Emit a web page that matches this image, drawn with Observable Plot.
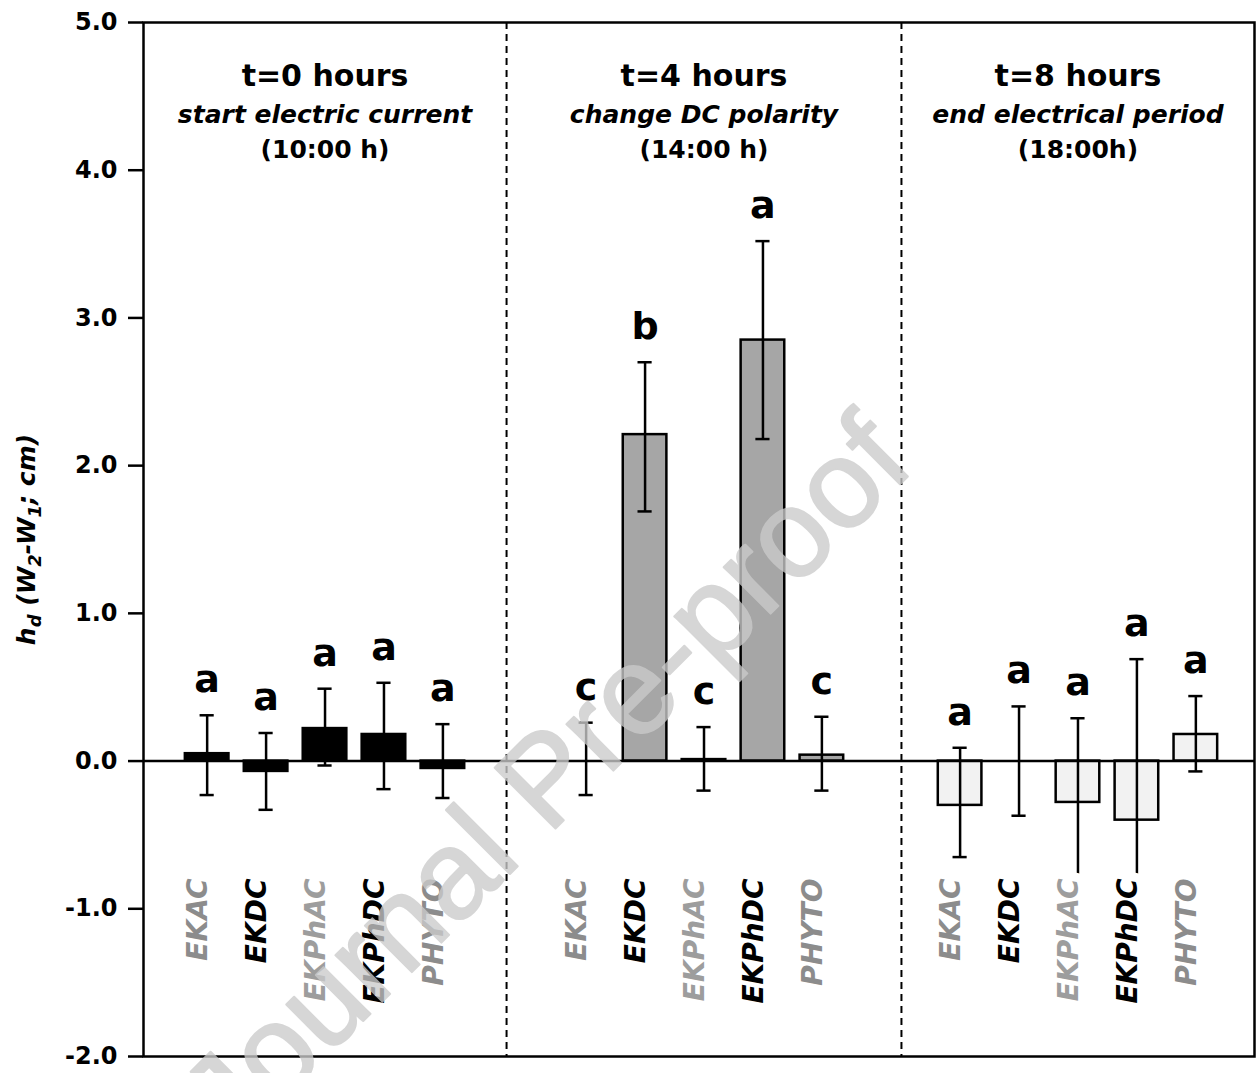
<!DOCTYPE html>
<html><head><meta charset="utf-8">
<script src="https://cdn.jsdelivr.net/npm/d3@7"></script>
<script src="https://cdn.jsdelivr.net/npm/@observablehq/plot@0.6"></script>
<style>html,body{margin:0;padding:0;background:#fff;}</style>
</head><body><div id="chart"></div>
<script>
// ---- data ----
const panelTitles = ["t=0 hours", "t=4 hours", "t=8 hours"];
const panelSubtitles = ["start electric current", "change DC polarity", "end electrical period"];
const panelTimes = ["(10:00 h)", "(14:00 h)", "(18:00h)"];
const treatments = ["EKAC", "EKDC", "EKPhAC", "EKPhDC", "PHYTO"];
const meanT0 = [0.05, -0.07, 0.22, 0.18, -0.05];
const meanT4 = [0.00, 2.21, 0.01, 2.85, 0.04];
const meanT8 = [-0.30, 0.00, -0.28, -0.40, 0.18];
const hiT0 = [0.31, 0.19, 0.49, 0.53, 0.25];
const loT0 = [-0.23, -0.33, -0.03, -0.19, -0.25];
const hiT4 = [0.26, 2.70, 0.23, 3.52, 0.30];
const loT4 = [-0.23, 1.69, -0.20, 2.18, -0.20];
const hiT8 = [0.09, 0.37, 0.29, 0.69, 0.44];
const loT8 = [-0.65, -0.37, -0.90, -0.90, -0.07];
const lettersT0 = ["a", "a", "a", "a", "a"];
const lettersT4 = ["c", "b", "c", "a", "c"];
const lettersT8 = ["a", "a", "a", "a", "a"];
const yTicks = [-2, -1, 0, 1, 2, 3, 4, 5];
const yLabel = "hd (W2-W1; cm)";
const watermark = "Journal Pre-proof";

// ---- styles / layout ----
const panelFill = ["#000000", "#a6a6a6", "#f2f2f2"];
const labelColor = {EKAC: "#8c8c8c", EKDC: "#000000", EKPhAC: "#9d9d9d", EKPhDC: "#000000", PHYTO: "#8c8c8c"};
const panelEdges = [-1.05, 5.11, 11.81, 17.80]; // x-scale units, one unit = one bar slot
const panelCenter = g => (panelEdges[g] + panelEdges[g + 1]) / 2;
const halfBar = 0.37, halfCap = 0.12;
const FONT = "DejaVu Sans";

const means = [meanT0, meanT4, meanT8];
const highs = [hiT0, hiT4, hiT8];
const lows = [loT0, loT4, loT8];
const letters = [lettersT0, lettersT4, lettersT8];

const rows = [];
panelTitles.forEach((_, g) => treatments.forEach((t, i) => rows.push({
  g, t, mean: means[g][i], hi: highs[g][i], lo: lows[g][i], letter: letters[g][i],
  x: panelCenter(g) + (i - 2)
})));
const panels = panelTitles.map((title, g) => ({g, title, sub: panelSubtitles[g], time: panelTimes[g], x: panelCenter(g)}));
const dividers = panelEdges.slice(1, -1);

const chart = Plot.plot({
  width: 1257, height: 1073,
  marginTop: 22, marginBottom: 17, marginLeft: 143, marginRight: 3,
  style: {fontFamily: FONT, background: "transparent", color: "black"},
  x: {domain: [panelEdges[0], panelEdges[3]], axis: null},
  y: {domain: [-2, 5], axis: null},
  color: {type: "identity"},
  marks: [
    Plot.axisY({ticks: yTicks, tickFormat: d => d.toFixed(1), tickSize: 15, tickPadding: 11,
      fontSize: 24, fontWeight: "bold", strokeWidth: 2.5, label: null}),
    Plot.rect(rows, {x1: d => d.x - halfBar, x2: d => d.x + halfBar, y1: d => 0, y2: "mean",
      fill: d => panelFill[d.g], stroke: "black", strokeWidth: 2.5}),
    Plot.ruleY([0], {stroke: "black", strokeWidth: 2.5}),
    Plot.ruleX(dividers, {stroke: "black", strokeWidth: 2, strokeDasharray: "7,5"}),
    Plot.ruleX(rows, {x: "x", y1: "lo", y2: "hi", stroke: "black", strokeWidth: 2.5}),
    Plot.ruleY(rows, {y: "hi", x1: d => d.x - halfCap, x2: d => d.x + halfCap, stroke: "black", strokeWidth: 2.5}),
    Plot.ruleY(rows, {y: "lo", x1: d => d.x - halfCap, x2: d => d.x + halfCap, stroke: "black", strokeWidth: 2.5}),
    Plot.text(rows, {x: "x", y: "hi", text: "letter", dy: -23, lineAnchor: "bottom",
      fontSize: 38, fontWeight: "bold", fill: "black"}),
    Plot.text(rows, {x: "x", text: "t", frameAnchor: "bottom", dy: -178, rotate: -90, textAnchor: "end",
      fontSize: 28, fontWeight: "bold", fontStyle: "italic", fill: d => labelColor[d.t],
      stroke: "white", strokeWidth: 18, paintOrder: "stroke"}),
    Plot.text(panels, {x: "x", text: "title", frameAnchor: "top", dy: 63, lineAnchor: "bottom",
      fontSize: 30, fontWeight: "bold", fill: "black"}),
    Plot.text(panels, {x: "x", text: "sub", frameAnchor: "top", dy: 100, lineAnchor: "bottom",
      fontSize: 25, fontWeight: "bold", fontStyle: "italic", fill: "black"}),
    Plot.text(panels, {x: "x", text: "time", frameAnchor: "top", dy: 135, lineAnchor: "bottom",
      fontSize: 25, fontWeight: "bold", fill: "black"}),
    Plot.text([yLabel], {frameAnchor: "left", dx: -117, rotate: -90, text: d => d, textAnchor: "middle",
      fontSize: 25, fontWeight: "bold", fontStyle: "italic", fill: "black"}),
    Plot.frame({stroke: "black", strokeWidth: 2.5}),
    Plot.text([watermark], {frameAnchor: "middle", dx: -152, dy: 241, rotate: -45, text: d => d,
      textAnchor: "middle", fontSize: 125, fontFamily: "Liberation Sans", fill: "#cbcbcb",
      stroke: "#cbcbcb", strokeWidth: 2, opacity: 0.78})
  ]
});
document.getElementById("chart").append(chart);

// subscripts in the y-axis label
d3.select(chart).selectAll("text").filter(function() { return this.textContent === yLabel; })
  .each(function() {
    const t = d3.select(this);
    t.text(null);
    const parts = [["h", 0], ["d", 1], [" (W", -1], ["2", 1], ["-W", -1], ["1", 1], ["; cm)", -1]];
    parts.forEach(([s, sub]) => {
      const sp = t.append("tspan").text(s);
      if (sub === 1) sp.attr("dy", 6).attr("font-size", 18);
      else if (sub === -1) sp.attr("dy", -6);
    });
  });
</script>
</body></html>
